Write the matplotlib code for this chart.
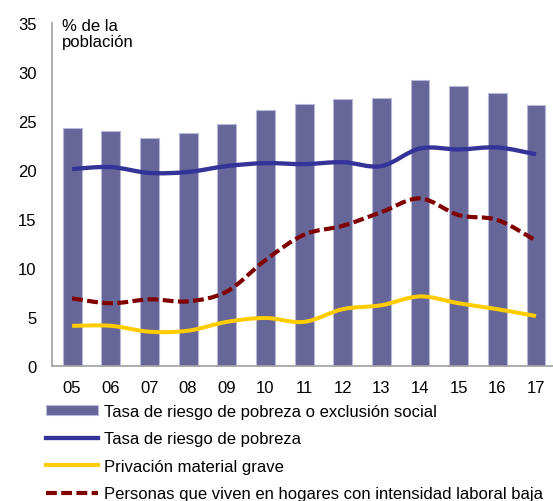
import matplotlib
matplotlib.use("Agg")
import matplotlib.pyplot as plt
from matplotlib.path import Path
from matplotlib.patches import PathPatch
from matplotlib.lines import Line2D
from matplotlib.patches import Patch
import numpy as np

plt.rcParams['font.family'] = ['Liberation Sans', 'DejaVu Sans']

years = ["05", "06", "07", "08", "09", "10", "11", "12", "13", "14", "15", "16", "17"]
arope = [24.3, 24.0, 23.3, 23.8, 24.7, 26.1, 26.7, 27.2, 27.3, 29.2, 28.6, 27.9, 26.6]
pobreza = [20.1, 20.3, 19.7, 19.8, 20.4, 20.7, 20.6, 20.8, 20.4, 22.2, 22.1, 22.3, 21.6]
privacion = [4.1, 4.1, 3.5, 3.6, 4.5, 4.9, 4.5, 5.8, 6.2, 7.1, 6.4, 5.8, 5.1]
baja_intensidad = [6.9, 6.4, 6.8, 6.6, 7.6, 10.8, 13.4, 14.3, 15.7, 17.1, 15.4, 14.9, 12.8]

labels = [
    "Tasa de riesgo de pobreza o exclusión social",
    "Tasa de riesgo de pobreza",
    "Privación material grave",
    "Personas que viven en hogares con intensidad laboral baja",
]

bar_color = "#666699"
blue = "#333399"
yellow = "#FFCC00"
red = "#800000"
dash = (0, (2.6, 1.05))
FS = 12


def smooth_path(xs, ys):
    """Cubic Bezier path through the points (Catmull-Rom style smoothing)."""
    pts = np.column_stack([xs, ys]).astype(float)
    n = len(pts)
    verts = [pts[0]]
    codes = [Path.MOVETO]
    for i in range(n - 1):
        p0 = pts[i - 1] if i > 0 else pts[i]
        p1 = pts[i]
        p2 = pts[i + 1]
        p3 = pts[i + 2] if i + 2 < n else pts[i + 1]
        c1 = p1 + (p2 - p0) / 6.0
        c2 = p2 - (p3 - p1) / 6.0
        verts += [c1, c2, p2]
        codes += [Path.CURVE4] * 3
    return Path(verts, codes)


fig = plt.figure(figsize=(5.53, 5.02), dpi=100)
ax = fig.add_axes([52 / 553, 1 - 367 / 502, 1 - 52 / 553, (367 - 24) / 502])

x = np.arange(len(years))
ax.bar(x, arope, width=0.49, color=bar_color, edgecolor="#B8B8D8", linewidth=0.8, zorder=2)

line_specs = [
    (pobreza, blue, "-", 3.1),
    (privacion, yellow, "-", 2.9),
    (baja_intensidad, red, dash, 3.0),
]
for values, color, ls, lw in line_specs:
    patch = PathPatch(smooth_path(x, values), facecolor="none", edgecolor=color,
                      linewidth=lw, linestyle=ls, capstyle="butt", zorder=3)
    ax.add_patch(patch)

ax.set_xlim(-0.52, len(years) - 1 + 0.44)
ax.set_ylim(0, 35)
ax.set_yticks(np.arange(0, 36, 5))
ax.set_xticks(x)
ax.set_xticklabels(years)
ax.tick_params(axis="both", length=0, labelsize=FS, colors="#000000")
ax.tick_params(axis="x", pad=10)
ax.tick_params(axis="y", pad=11)

for side in ("top", "right"):
    ax.spines[side].set_visible(False)
for side in ("left", "bottom"):
    ax.spines[side].set_color("#A0A0A0")
    ax.spines[side].set_linewidth(1.2)

fig.text(62 / 553, 1 - 19 / 502, "% de la\npoblación", fontsize=FS, va="top", ha="left",
         linespacing=1.05)

handles = [
    Patch(facecolor=bar_color, edgecolor="#B8B8D8", linewidth=0.8),
    Line2D([], [], color=blue, linewidth=3.1),
    Line2D([], [], color=yellow, linewidth=2.9),
    Line2D([], [], color=red, linewidth=3.0, linestyle=dash),
]
fig.legend(handles, labels, loc="upper left", bbox_to_anchor=(46 / 553, 1 - 405 / 502),
           frameon=False, fontsize=FS, borderpad=0, borderaxespad=0,
           handlelength=3.12, handletextpad=0.36, labelspacing=0.74, handleheight=0.48)

fig.savefig("out.png", dpi=100)
